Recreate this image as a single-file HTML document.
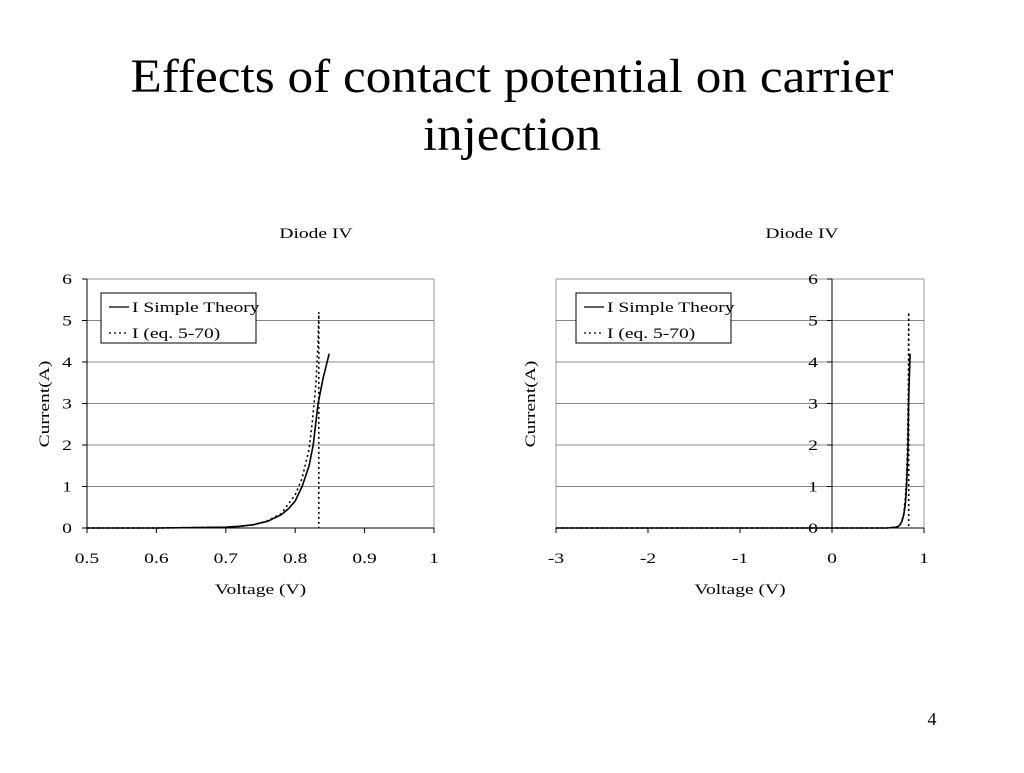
<!DOCTYPE html>
<html><head><meta charset="utf-8"><style>
body{margin:0;background:#fff;width:1024px;height:768px;overflow:hidden;font-family:"Liberation Serif",serif}
</style></head><body>
<svg width="1024" height="768" xmlns="http://www.w3.org/2000/svg" font-family="Liberation Serif, serif">
<text x="512" y="92" font-size="48" text-anchor="middle" textLength="763" lengthAdjust="spacingAndGlyphs">Effects of contact potential on carrier</text>
<text x="512" y="150" font-size="48" text-anchor="middle" textLength="178" lengthAdjust="spacingAndGlyphs">injection</text>
<text x="932" y="725" font-size="18" text-anchor="middle">4</text>
<g id="c1"></g>
<g id="c2"></g>
</svg>
<script>
const yTicks=[0,1,2,3,4,5,6];
const xTicksLeft=[0.5,0.6,0.7,0.8,0.9,1];
const xTicksRight=[-3,-2,-1,0,1];
const simpleV=[0.5,0.6,0.7,0.72,0.74,0.76,0.78,0.79,0.8,0.81,0.82,0.826,0.833,0.84,0.849];
const simpleI=[0,0,0.02,0.04,0.08,0.16,0.32,0.46,0.65,1.0,1.5,2.0,3.0,3.6,4.2];
const eqV=[0.5,0.6,0.7,0.72,0.74,0.76,0.78,0.8,0.81,0.82,0.825,0.83,0.833,0.834,0.834];
const eqI=[0,0,0.02,0.04,0.08,0.17,0.35,0.8,1.2,1.9,2.6,3.5,4.5,5.2,0];
const NS="http://www.w3.org/2000/svg";
const FS=15, STRETCH=1.3;
function mk(p,t,a){const e=document.createElementNS(NS,t);for(const k in a)e.setAttribute(k,a[k]);p.appendChild(e);return e;}
function txt(p,a,s){const e=mk(p,'text',Object.assign({'font-size':FS},a));e.textContent=s;
 const w=e.getComputedTextLength();if(w>0){e.setAttribute('textLength',(w*STRETCH).toFixed(1));e.setAttribute('lengthAdjust','spacingAndGlyphs');}
 return e;}
function chart(g,x0,x1,xmin,xmax,xt,titleX,yAxisX,yLabX,leg,startV,yc){
 const y0=528,y1=279;
 const sx=v=>x0+(v-xmin)/(xmax-xmin)*(x1-x0), sy=v=>y0-v/6*(y0-y1);
 let t=txt(g,{x:titleX,y:238,'text-anchor':'middle'},'Diode IV');
 
 
 let b=mk(g,'rect',{x:x0,y:y1,width:x1-x0,height:y0-y1,fill:'none',stroke:'#999'});
 
 
 yTicks.forEach(v=>{
  if(v>0&&v<6){const l=mk(g,'line',{x1:x0,x2:x1,y1:sy(v),y2:sy(v),stroke:'#888'});
  
  }
  const tk=mk(g,'line',{x1:yAxisX-5,x2:yAxisX,y1:sy(v),y2:sy(v),stroke:'#000'});
  
  
  const tl=txt(g,{x:yLabX,y:sy(v)+5,'text-anchor':'end'},String(v));
  
  
 });
 const ya=mk(g,'line',{x1:yAxisX,x2:yAxisX,y1:y1,y2:y0,stroke:'#000'});
 
 
 const xa=mk(g,'line',{x1:x0,x2:x1,y1:y0,y2:y0,stroke:'#000'});
 
 
 xt.forEach(v=>{
  const tk=mk(g,'line',{x1:sx(v),x2:sx(v),y1:y0,y2:y0+5,stroke:'#000'});
  
  
  const tl=txt(g,{x:sx(v),y:y0+35,'text-anchor':'middle'},String(v));
  
  
 });
 const xt2=txt(g,{x:(x0+x1)/2,y:594,'text-anchor':'middle'},'Voltage (V)');
 
 
 const yt=txt(g,{x:yc,y:409,'text-anchor':'middle',transform:`rotate(-90 ${yc} 404)`},'Current(A)');
 
 
 const pts=(V,I)=>{let a=[];if(startV!==null)a.push([startV,0]);V.forEach((v,i)=>a.push([v,I[i]]));return a.map(p=>sx(p[0]).toFixed(1)+','+sy(p[1]).toFixed(1)).join(' ');};
 const s1=mk(g,'polyline',{points:pts(simpleV,simpleI),fill:'none',stroke:'#000','stroke-width':1.6});
 
 
 const s2=mk(g,'polyline',{points:pts(eqV,eqI),fill:'none',stroke:'#000','stroke-width':1.6,'stroke-dasharray':'2,3'});
 
 
 const lg=mk(g,'g',{});
 
 
 mk(lg,'rect',{x:leg,y:293,width:155,height:50,fill:'#fff',stroke:'#000'});
 mk(lg,'line',{x1:leg+8,x2:leg+28,y1:307,y2:307,stroke:'#000','stroke-width':1.3});
 mk(lg,'line',{x1:leg+8,x2:leg+28,y1:333,y2:333,stroke:'#000','stroke-width':1.3,'stroke-dasharray':'2,3'});
 const l1=txt(lg,{x:leg+31,y:312},'I Simple Theory');
 
 
 const l2=txt(lg,{x:leg+31,y:338},'I (eq. 5-70)');
 
 
}
chart(document.getElementById('c1'),87,434,0.5,1,xTicksLeft,316,87,72,101,null,44);
chart(document.getElementById('c2'),556,924,-3,1,xTicksRight,802,556+3*92,818,576,-3,530);
</script>
</body></html>
